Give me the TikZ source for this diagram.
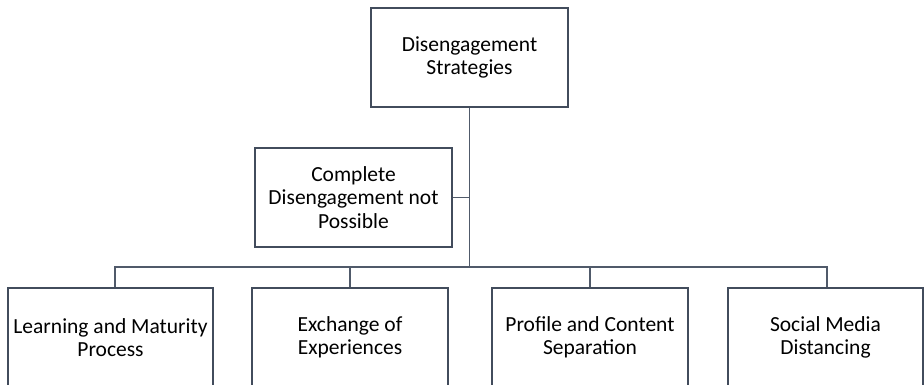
\documentclass[tikz,border=0pt]{standalone}
\usepackage{fontspec}
\setmainfont{Carlito}
\definecolor{boxc}{RGB}{66,76,92}
\definecolor{linec}{RGB}{80,90,106}
\begin{document}
\begin{tikzpicture}[x=1pt,y=-1pt,
  box/.style={draw=boxc, line width=1.4pt, fill=white, align=center,
    font=\fontsize{21.5}{23.5}\selectfont, inner sep=0pt, minimum height=99pt},
  conn/.style={draw=linec, line width=1.4pt}]
\useasboundingbox (0,0) rectangle (924,384);
\clip (0,0) rectangle (924,384);
\node[box, minimum width=197pt] (top) at (469.5,57.5) {Disengagement\\Strategies};
\node[box, minimum width=197pt] (mid) at (353.5,197.5) {Complete\\Disengagement not\\Possible};
\node[box, minimum width=205pt] (b1) at (110.5,337.5) {Learning and Maturity\\Process};
\node[box, minimum width=196pt] (b2) at (350,337.5) {Exchange of\\Experiences};
\node[box, minimum width=196pt] (b3) at (590,337.5) {Profile and Content\\Separation};
\node[box, minimum width=195pt] (b4) at (825.5,337.5) {Social Media\\Distancing};
\coordinate (bus) at (469,267);
\draw[conn] (top.south) -- (top.south |- bus);
\draw[conn] (mid.east) -- (mid.east -| top.south);
\draw[conn] ([xshift=4.5pt]b1.north) |- (bus) -| ([xshift=1.5pt]b4.north);
\draw[conn] (b2.north) -- (b2.north |- bus);
\draw[conn] (b3.north) -- (b3.north |- bus);
\end{tikzpicture}
\end{document}
